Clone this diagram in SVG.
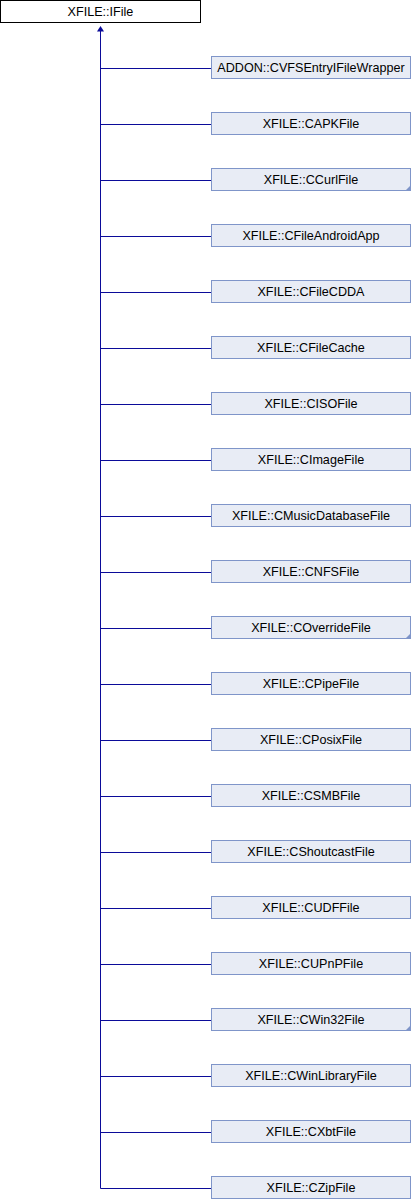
<svg xmlns="http://www.w3.org/2000/svg" width="412" height="1200" viewBox="0 0 412 1200">
<style>
.box{fill:#e8ecf5;stroke:#7f95c9;stroke-width:1}
.root{fill:#ffffff;stroke:#000000;stroke-width:1}
.lbl{font-family:"Liberation Sans",Arial,sans-serif;font-size:12.6px;fill:#000000;text-anchor:middle}
.edge{stroke:#0b0b99;stroke-width:1;fill:none}
.tri{fill:#7f95c9}
</style>
<rect width="412" height="1200" fill="#ffffff"/>
<g id="connectors">
<path class="edge" d="M100.5,27 V1188.5"/>
<path d="M97,31.5 L100.5,26 L104,31.5 Z" fill="#0b0b99"/>
<path class="edge" d="M100.5,68.5 H211 M100.5,124.5 H211 M100.5,180.5 H211 M100.5,236.5 H211 M100.5,292.5 H211 M100.5,348.5 H211 M100.5,404.5 H211 M100.5,460.5 H211 M100.5,516.5 H211 M100.5,572.5 H211 M100.5,628.5 H211 M100.5,684.5 H211 M100.5,740.5 H211 M100.5,796.5 H211 M100.5,852.5 H211 M100.5,908.5 H211 M100.5,964.5 H211 M100.5,1020.5 H211 M100.5,1076.5 H211 M100.5,1132.5 H211 M100.5,1188.5 H211"/>
</g>
<g id="IFile"><rect class="root" x="0.5" y="0.5" width="200" height="22"/><text class="lbl" x="100.5" y="16">XFILE::IFile</text></g>
<g id="CVFSEntryIFileWrapper"><rect class="box" x="211.5" y="56.5" width="199" height="22"/><text class="lbl" x="311" y="72">ADDON::CVFSEntryIFileWrapper</text></g>
<g id="CAPKFile"><rect class="box" x="211.5" y="112.5" width="199" height="22"/><text class="lbl" x="311" y="128">XFILE::CAPKFile</text></g>
<g id="CCurlFile"><rect class="box" x="211.5" y="168.5" width="199" height="22"/><path class="tri" d="M411,185 L411,191 L405,191 Z"/><text class="lbl" x="311" y="184">XFILE::CCurlFile</text></g>
<g id="CFileAndroidApp"><rect class="box" x="211.5" y="224.5" width="199" height="22"/><text class="lbl" x="311" y="240">XFILE::CFileAndroidApp</text></g>
<g id="CFileCDDA"><rect class="box" x="211.5" y="280.5" width="199" height="22"/><text class="lbl" x="311" y="296">XFILE::CFileCDDA</text></g>
<g id="CFileCache"><rect class="box" x="211.5" y="336.5" width="199" height="22"/><text class="lbl" x="311" y="352">XFILE::CFileCache</text></g>
<g id="CISOFile"><rect class="box" x="211.5" y="392.5" width="199" height="22"/><text class="lbl" x="311" y="408">XFILE::CISOFile</text></g>
<g id="CImageFile"><rect class="box" x="211.5" y="448.5" width="199" height="22"/><text class="lbl" x="311" y="464">XFILE::CImageFile</text></g>
<g id="CMusicDatabaseFile"><rect class="box" x="211.5" y="504.5" width="199" height="22"/><text class="lbl" x="311" y="520">XFILE::CMusicDatabaseFile</text></g>
<g id="CNFSFile"><rect class="box" x="211.5" y="560.5" width="199" height="22"/><text class="lbl" x="311" y="576">XFILE::CNFSFile</text></g>
<g id="COverrideFile"><rect class="box" x="211.5" y="616.5" width="199" height="22"/><path class="tri" d="M411,633 L411,639 L405,639 Z"/><text class="lbl" x="311" y="632">XFILE::COverrideFile</text></g>
<g id="CPipeFile"><rect class="box" x="211.5" y="672.5" width="199" height="22"/><text class="lbl" x="311" y="688">XFILE::CPipeFile</text></g>
<g id="CPosixFile"><rect class="box" x="211.5" y="728.5" width="199" height="22"/><text class="lbl" x="311" y="744">XFILE::CPosixFile</text></g>
<g id="CSMBFile"><rect class="box" x="211.5" y="784.5" width="199" height="22"/><text class="lbl" x="311" y="800">XFILE::CSMBFile</text></g>
<g id="CShoutcastFile"><rect class="box" x="211.5" y="840.5" width="199" height="22"/><text class="lbl" x="311" y="856">XFILE::CShoutcastFile</text></g>
<g id="CUDFFile"><rect class="box" x="211.5" y="896.5" width="199" height="22"/><text class="lbl" x="311" y="912">XFILE::CUDFFile</text></g>
<g id="CUPnPFile"><rect class="box" x="211.5" y="952.5" width="199" height="22"/><text class="lbl" x="311" y="968">XFILE::CUPnPFile</text></g>
<g id="CWin32File"><rect class="box" x="211.5" y="1008.5" width="199" height="22"/><path class="tri" d="M411,1025 L411,1031 L405,1031 Z"/><text class="lbl" x="311" y="1024">XFILE::CWin32File</text></g>
<g id="CWinLibraryFile"><rect class="box" x="211.5" y="1064.5" width="199" height="22"/><text class="lbl" x="311" y="1080">XFILE::CWinLibraryFile</text></g>
<g id="CXbtFile"><rect class="box" x="211.5" y="1120.5" width="199" height="22"/><text class="lbl" x="311" y="1136">XFILE::CXbtFile</text></g>
<g id="CZipFile"><rect class="box" x="211.5" y="1176.5" width="199" height="22"/><text class="lbl" x="311" y="1192">XFILE::CZipFile</text></g>
</svg>
